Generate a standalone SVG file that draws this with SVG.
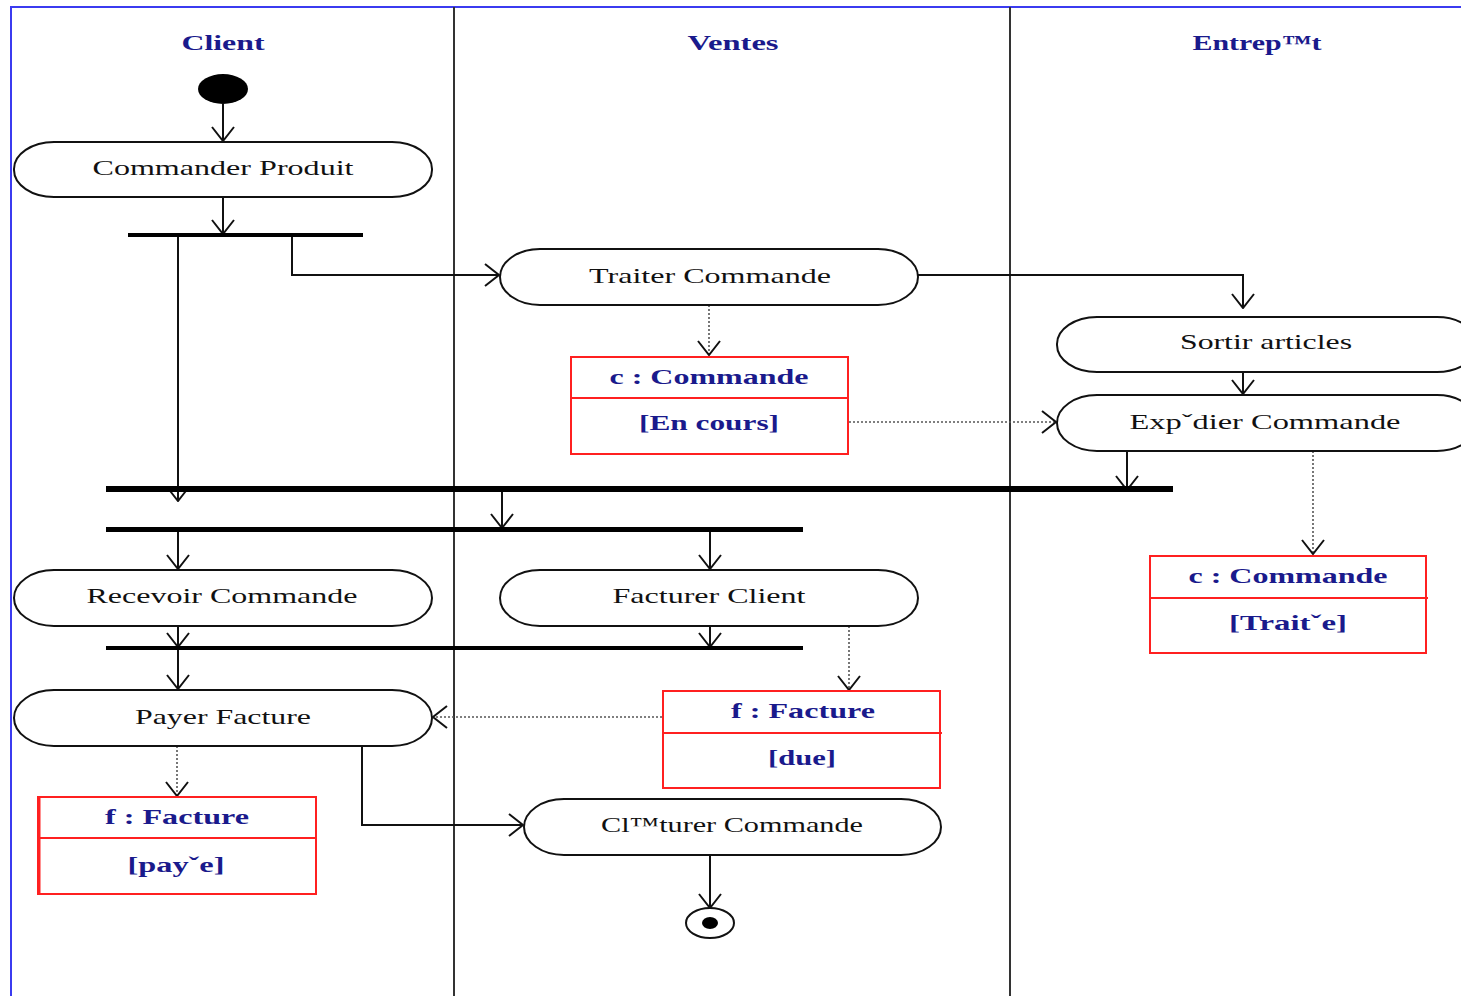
<svg xmlns="http://www.w3.org/2000/svg" width="1461" height="996" viewBox="0 0 1461 996">
<defs>
<style>
.lane{fill:none;stroke:#333;stroke-width:2}
.frame{fill:none;stroke:#3b3bf0;stroke-width:2}
.hdr{font-family:"Liberation Serif",serif;font-weight:bold;font-size:21px;fill:#1a1a8c;text-anchor:middle}
.act{fill:#fff;stroke:#111;stroke-width:2}
.atx{font-family:"Liberation Serif",serif;font-size:21px;fill:#111;text-anchor:middle}
.obj{fill:#fff;stroke:#ff2020;stroke-width:2}
.otx{font-family:"Liberation Serif",serif;font-weight:bold;font-size:21px;fill:#1a1a8c;text-anchor:middle}
.flow{fill:none;stroke:#111;stroke-width:2}
.dot{fill:none;stroke:#555;stroke-width:1.6;stroke-dasharray:2,2}
.bar{fill:#000}
</style>
<marker id="arr" markerUnits="userSpaceOnUse" viewBox="0 0 16 24" markerWidth="16" markerHeight="24" refX="15" refY="12" orient="auto">
<path d="M1,1 L15,12 L1,23" fill="none" stroke="#111" stroke-width="2"/>
</marker>
</defs>
<rect x="0" y="0" width="1461" height="996" fill="#fff"/>
<g id="lanes">
<path class="frame" d="M11,996 L11,7 L1461,7"/>
<line class="lane" x1="454" y1="7" x2="454" y2="996"/>
<line class="lane" x1="1010" y1="7" x2="1010" y2="996"/>
<text class="hdr" x="223" y="50" textLength="83" lengthAdjust="spacingAndGlyphs">Client</text>
<text class="hdr" x="733" y="50" textLength="91" lengthAdjust="spacingAndGlyphs">Ventes</text>
<text class="hdr" x="1257" y="50" textLength="129" lengthAdjust="spacingAndGlyphs">Entrep™t</text>
</g>
<g id="connectors">
<line class="flow" x1="223" y1="104" x2="223" y2="141" marker-end="url(#arr)"/>
<line class="flow" x1="223" y1="197" x2="223" y2="234" marker-end="url(#arr)"/>
<line class="flow" x1="178" y1="235" x2="178" y2="501" marker-end="url(#arr)"/>
<polyline class="flow" points="292,235 292,275 499,275" marker-end="url(#arr)"/>
<polyline class="flow" points="918,275 1243,275 1243,308" marker-end="url(#arr)"/>
<line class="flow" x1="1243" y1="372" x2="1243" y2="394" marker-end="url(#arr)"/>
<line class="dot" x1="709" y1="305" x2="709" y2="355" marker-end="url(#arr)"/>
<line class="dot" x1="849" y1="422" x2="1056" y2="422" marker-end="url(#arr)"/>
<line class="flow" x1="1127" y1="451" x2="1127" y2="490" marker-end="url(#arr)"/>
<line class="dot" x1="1313" y1="451" x2="1313" y2="554" marker-end="url(#arr)"/>
<line class="flow" x1="502" y1="492" x2="502" y2="528" marker-end="url(#arr)"/>
<line class="flow" x1="178" y1="531" x2="178" y2="569" marker-end="url(#arr)"/>
<line class="flow" x1="710" y1="531" x2="710" y2="569" marker-end="url(#arr)"/>
<line class="flow" x1="178" y1="626" x2="178" y2="647" marker-end="url(#arr)"/>
<line class="flow" x1="710" y1="626" x2="710" y2="647" marker-end="url(#arr)"/>
<line class="flow" x1="178" y1="650" x2="178" y2="689" marker-end="url(#arr)"/>
<line class="dot" x1="849" y1="626" x2="849" y2="690" marker-end="url(#arr)"/>
<line class="dot" x1="662" y1="717" x2="433" y2="717" marker-end="url(#arr)"/>
<line class="dot" x1="177" y1="746" x2="177" y2="796" marker-end="url(#arr)"/>
<polyline class="flow" points="362,743 362,825 523,825" marker-end="url(#arr)"/>
<line class="flow" x1="710" y1="855" x2="710" y2="908" marker-end="url(#arr)"/>
</g>
<g id="start"><ellipse cx="223" cy="89" rx="25" ry="15" fill="#000"/></g>
<g id="fork1"><rect class="bar" x="128" y="233" width="235" height="4"/></g>
<g id="join1"><rect class="bar" x="106" y="486" width="1067" height="6"/></g>
<g id="fork2"><rect class="bar" x="106" y="527" width="697" height="5"/></g>
<g id="join2"><rect class="bar" x="106" y="646" width="697" height="4"/></g>
<g id="commander">
<rect class="act" x="14" y="142" width="418" height="55" rx="40" ry="27"/>
<text class="atx" x="223" y="175" textLength="261" lengthAdjust="spacingAndGlyphs">Commander Produit</text>
</g>
<g id="traiter">
<rect class="act" x="500" y="249" width="418" height="56" rx="40" ry="28"/>
<text class="atx" x="710" y="283" textLength="242" lengthAdjust="spacingAndGlyphs">Traiter Commande</text>
</g>
<g id="sortir">
<rect class="act" x="1057" y="317" width="420" height="55" rx="40" ry="27"/>
<text class="atx" x="1266" y="349" textLength="172" lengthAdjust="spacingAndGlyphs">Sortir articles</text>
</g>
<g id="expedier">
<rect class="act" x="1057" y="395" width="420" height="56" rx="40" ry="28"/>
<text class="atx" x="1265" y="429" textLength="271" lengthAdjust="spacingAndGlyphs">Expˇdier Commande</text>
</g>
<g id="obj-encours">
<rect class="obj" x="571" y="357" width="277" height="97"/>
<line x1="570" y1="398" x2="848" y2="398" stroke="#ff2020" stroke-width="2"/>
<text class="otx" x="709" y="384" textLength="199" lengthAdjust="spacingAndGlyphs">c : Commande</text>
<text class="otx" x="709" y="430" textLength="140" lengthAdjust="spacingAndGlyphs">[En cours]</text>
</g>
<g id="obj-traitee">
<rect class="obj" x="1150" y="556" width="276" height="97"/>
<line x1="1150" y1="598" x2="1428" y2="598" stroke="#ff2020" stroke-width="2"/>
<text class="otx" x="1288" y="583" textLength="199" lengthAdjust="spacingAndGlyphs">c : Commande</text>
<text class="otx" x="1288" y="630" textLength="118" lengthAdjust="spacingAndGlyphs">[Traitˇe]</text>
</g>
<g id="recevoir">
<rect class="act" x="14" y="570" width="418" height="56" rx="40" ry="28"/>
<text class="atx" x="222" y="603" textLength="271" lengthAdjust="spacingAndGlyphs">Recevoir Commande</text>
</g>
<g id="facturer">
<rect class="act" x="500" y="570" width="418" height="56" rx="40" ry="28"/>
<text class="atx" x="709" y="603" textLength="193" lengthAdjust="spacingAndGlyphs">Facturer Client</text>
</g>
<g id="payer">
<rect class="act" x="14" y="690" width="418" height="56" rx="40" ry="28"/>
<text class="atx" x="223" y="724" textLength="176" lengthAdjust="spacingAndGlyphs">Payer Facture</text>
</g>
<g id="obj-due">
<rect class="obj" x="663" y="691" width="277" height="97"/>
<line x1="663" y1="733" x2="942" y2="733" stroke="#ff2020" stroke-width="2"/>
<text class="otx" x="803" y="718" textLength="144" lengthAdjust="spacingAndGlyphs">f : Facture</text>
<text class="otx" x="802" y="765" textLength="68" lengthAdjust="spacingAndGlyphs">[due]</text>
</g>
<g id="obj-payee">
<rect class="obj" x="38" y="797" width="278" height="97"/>
<line x1="38" y1="838" x2="316" y2="838" stroke="#ff2020" stroke-width="2"/>
<line x1="39" y1="797" x2="39" y2="894" stroke="#ff2020" stroke-width="3"/>
<text class="otx" x="177" y="824" textLength="144" lengthAdjust="spacingAndGlyphs">f : Facture</text>
<text class="otx" x="176" y="872" textLength="97" lengthAdjust="spacingAndGlyphs">[payˇe]</text>
</g>
<g id="cloturer">
<rect class="act" x="524" y="799" width="417" height="56" rx="40" ry="28"/>
<text class="atx" x="732" y="832" textLength="262" lengthAdjust="spacingAndGlyphs">Cl™turer Commande</text>
</g>
<g id="end">
<ellipse cx="710" cy="923" rx="24" ry="15" fill="#fff" stroke="#111" stroke-width="2"/>
<ellipse cx="710" cy="923" rx="8" ry="6" fill="#000"/>
</g>
</svg>
